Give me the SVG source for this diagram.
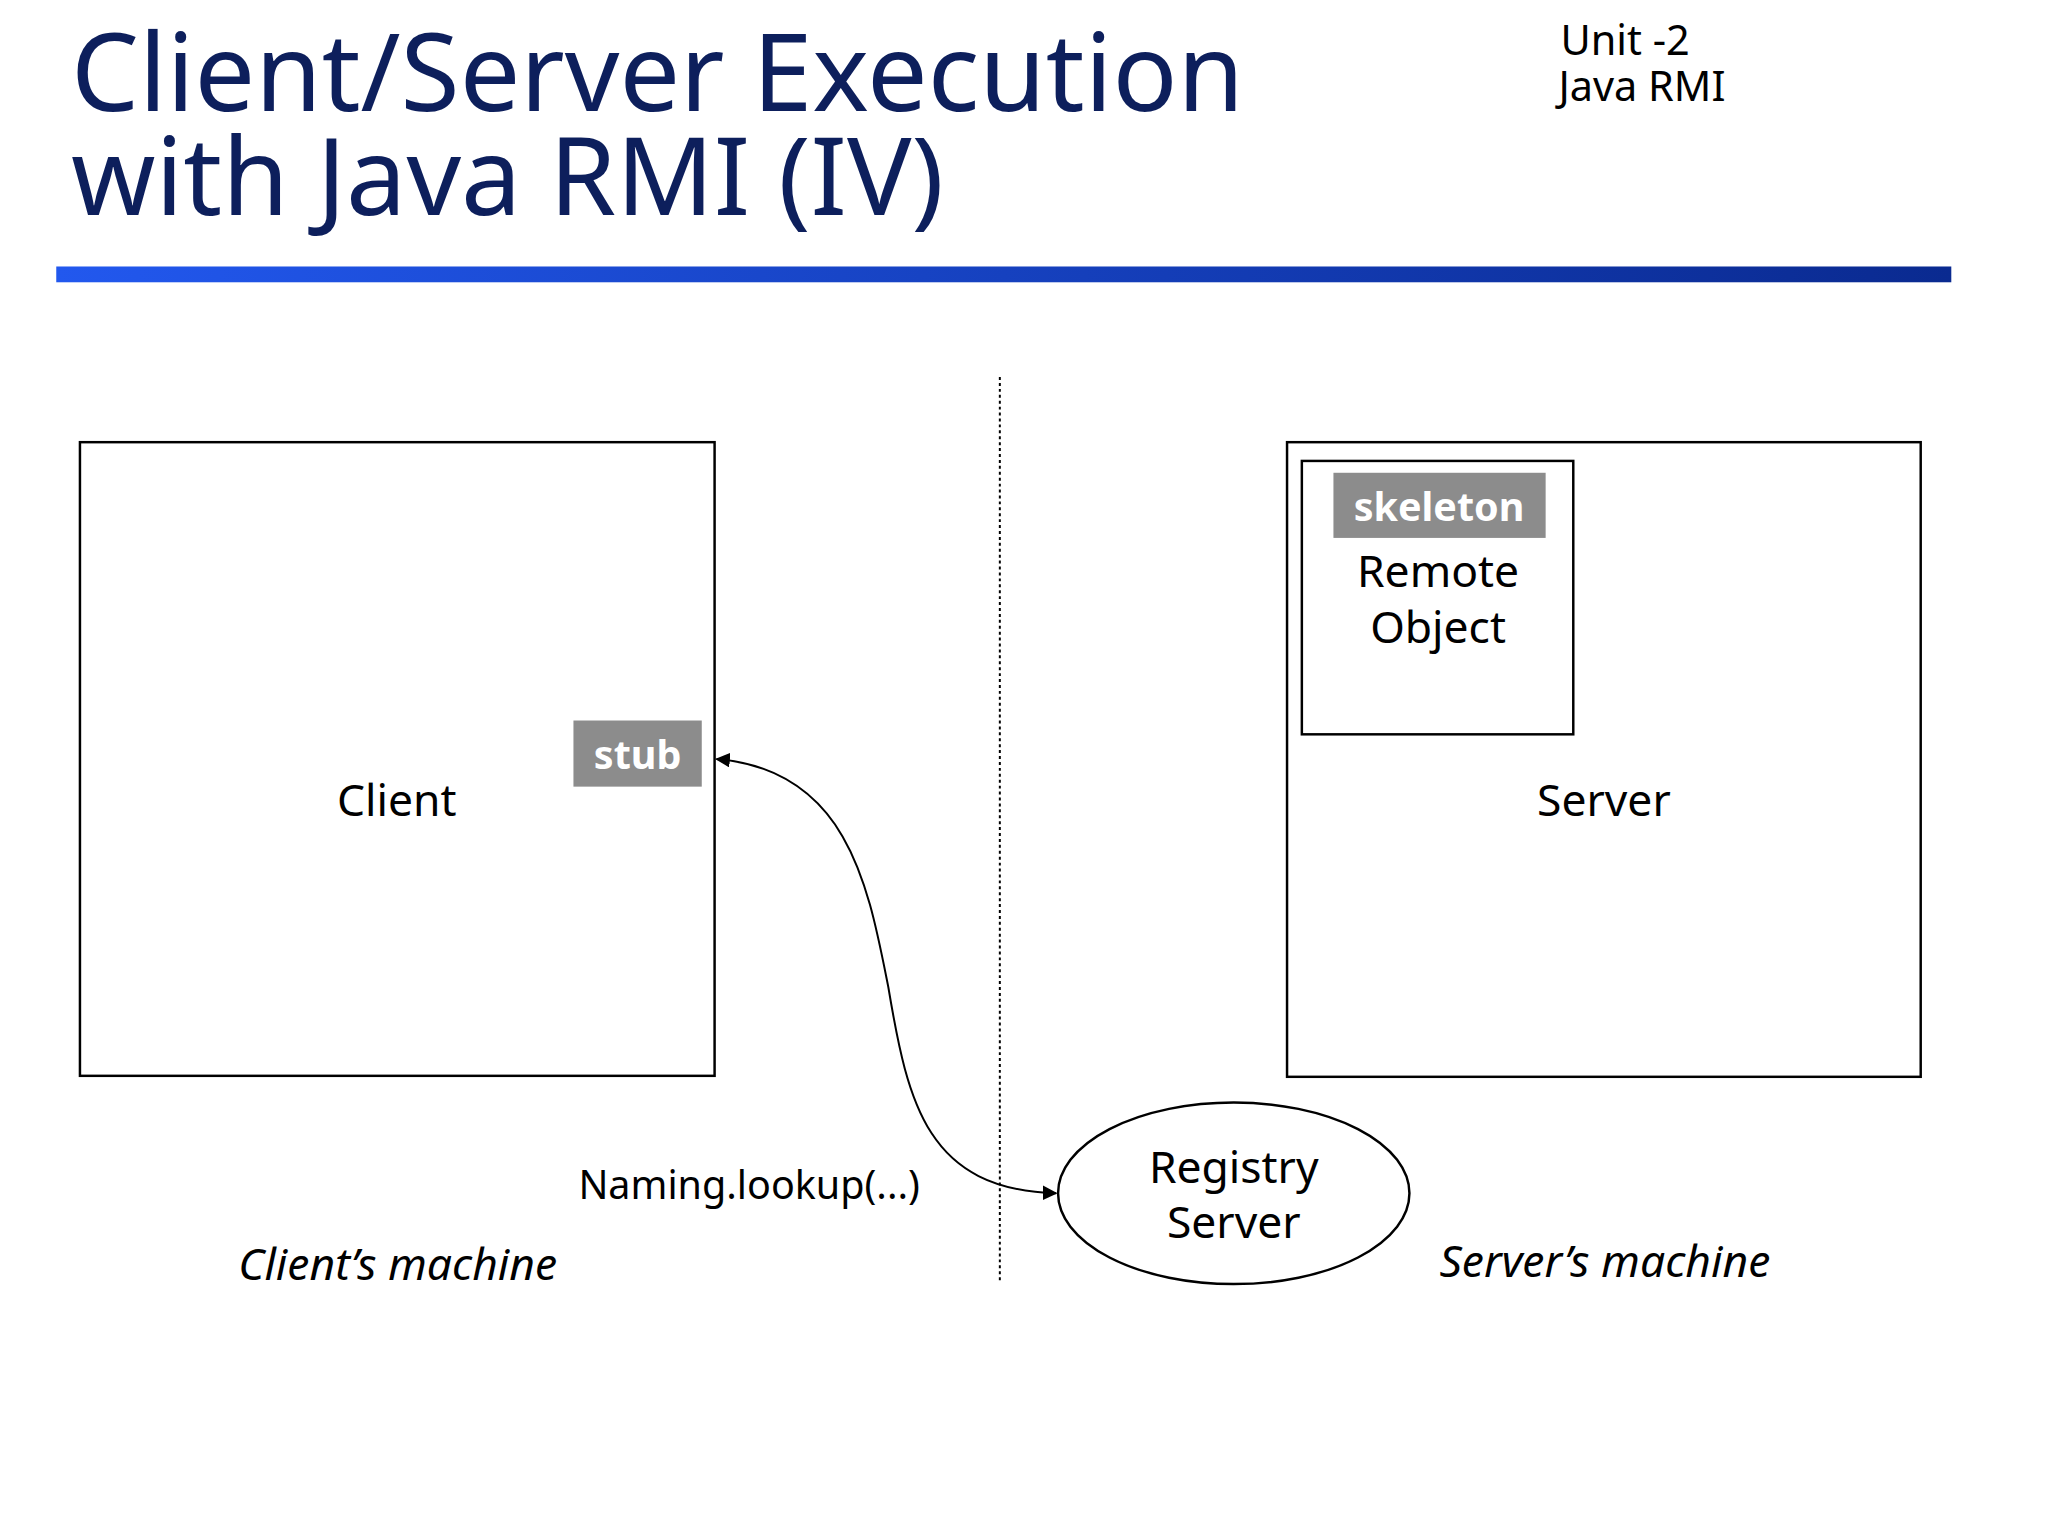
<svg xmlns="http://www.w3.org/2000/svg" width="2048" height="1536" viewBox="0 0 2048 1536">
<defs>
<linearGradient id="bar" x1="0" x2="1" y1="0" y2="0"><stop offset="0" stop-color="#2258ee"/><stop offset="1" stop-color="#0a2a90"/></linearGradient>
<marker id="ah" viewBox="0 0 10 10" refX="9" refY="5" markerWidth="15" markerHeight="15" markerUnits="userSpaceOnUse" orient="auto-start-reverse"><path d="M0,0 L10,5 L0,10 z" fill="#000"/></marker>
</defs>
<style>
text{font-family:"Noto Sans","Open Sans",sans-serif;fill:#000}
.t{fill:#0d1f5c;font-size:109px}
.u{font-size:42px}
.l{font-size:45px;text-anchor:middle}
.b{font-size:40px;font-weight:bold;fill:#fff;text-anchor:middle}
.i{font-size:45px;font-style:italic;text-anchor:middle}
.box{fill:#fff;stroke:#000;stroke-width:2.5}
.g{fill:#8c8c8c}
</style>
<rect width="2048" height="1536" fill="#fff"/>
<g transform="scale(0.987)">
<g id="title">
<text class="t" x="72" y="112">Client/Server Execution</text>
<text class="t" x="72" y="218">with Java RMI (IV)</text>
<text class="u" x="1581" y="56">Unit -2</text>
<text class="u" x="1579" y="102">Java RMI</text>
<rect x="57" y="270" width="1920" height="16" fill="url(#bar)"/>
</g>
<line x1="1013" y1="382" x2="1013" y2="1297" stroke="#000" stroke-width="2" stroke-dasharray="3,3"/>
<g id="client">
<rect class="box" x="81" y="448" width="643" height="642"/>
<text class="l" x="402" y="827">Client</text>
</g>
<g id="stub">
<rect class="g" x="581" y="730" width="130" height="67"/>
<text class="b" x="646" y="779">stub</text>
</g>
<g id="server">
<rect class="box" x="1304" y="448" width="642" height="643"/>
<text class="l" x="1625" y="827">Server</text>
</g>
<g id="remote">
<rect class="box" x="1319" y="467" width="275" height="277"/>
<rect class="g" x="1351" y="479" width="215" height="66"/>
<text class="b" x="1458" y="528">skeleton</text>
<text class="l" x="1457" y="595">Remote</text>
<text class="l" x="1457" y="651">Object</text>
</g>
<g id="registry">
<ellipse class="box" cx="1250" cy="1209" rx="178" ry="92"/>
<text class="l" x="1250" y="1199">Registry</text>
<text class="l" x="1250" y="1254">Server</text>
</g>
<g id="connectors">
<path d="M726,769 C860,780 880,900 900,1000 C920,1120 940,1205 1070,1209" fill="none" stroke="#000" stroke-width="2" marker-start="url(#ah)" marker-end="url(#ah)"/>
</g>
<g id="labels">
<text x="586" y="1215" style="font-size:40px">Naming.lookup(...)</text>
<text class="i" x="403" y="1297">Client’s machine</text>
<text class="i" x="1626" y="1294">Server’s machine</text>
</g>
</g>
</svg>
